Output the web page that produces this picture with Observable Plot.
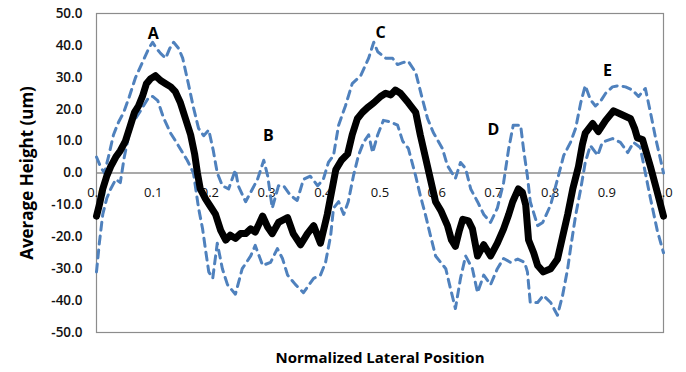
<!DOCTYPE html>
<html><head><meta charset="utf-8">
<script src="https://cdn.jsdelivr.net/npm/d3@7"></script>
<script src="https://cdn.jsdelivr.net/npm/@observablehq/plot@0.6"></script>
<style>body{margin:0;background:#fff}</style>
</head><body><div id="chart"></div>
<script>
const meanPos = [0,0.005,0.011,0.018,0.025,0.034,0.042,0.051,0.060,0.067,0.074,0.081,0.088,0.095,0.104,0.113,0.122,0.131,0.139,0.148,0.157,0.166,0.173,0.178,0.183,0.192,0.201,0.210,0.219,0.228,0.236,0.245,0.254,0.263,0.272,0.280,0.293,0.302,0.310,0.321,0.337,0.347,0.360,0.372,0.383,0.395,0.407,0.422,0.432,0.443,0.451,0.460,0.469,0.478,0.489,0.501,0.510,0.519,0.527,0.536,0.550,0.563,0.571,0.580,0.589,0.598,0.608,0.619,0.626,0.633,0.640,0.646,0.656,0.663,0.672,0.683,0.695,0.707,0.718,0.727,0.734,0.744,0.751,0.757,0.762,0.771,0.778,0.788,0.801,0.813,0.822,0.831,0.840,0.850,0.857,0.862,0.875,0.885,0.898,0.912,0.924,0.942,0.949,0.954,0.963,0.977,0.989,1.0];
const meanHeight = [-13.5,-10,-5,-1,2,5,7,10,15,19,21,24,28,29.5,30.5,29,28,27,25.5,22,17,12,6,0,-5,-8,-10.5,-13,-18,-21,-19.5,-20.5,-19,-19,-17.5,-18.5,-13.5,-17,-19,-15.5,-14,-19,-22.5,-19,-16.5,-22,-13,1,4,6,12,17,19,20.5,22,24,25,24.5,26,25,22,19,12,5,-2,-9,-12,-16.5,-21,-23,-18,-14.5,-15,-17.5,-26,-22.5,-26,-22,-17.5,-13,-9,-5,-6,-10,-21,-25,-29,-31,-30,-27,-20,-13,-5,2,9,12.5,15.5,13,16.5,19.5,18.5,17,14,11,10.5,2,-6,-13.5];

const upperPos = [0,0.007,0.014,0.021,0.030,0.039,0.048,0.058,0.069,0.083,0.092,0.099,0.106,0.113,0.122,0.129,0.136,0.145,0.152,0.162,0.171,0.180,0.189,0.198,0.206,0.213,0.222,0.233,0.245,0.250,0.263,0.275,0.284,0.295,0.302,0.310,0.321,0.330,0.342,0.354,0.365,0.377,0.390,0.400,0.409,0.418,0.427,0.439,0.451,0.466,0.480,0.489,0.496,0.510,0.522,0.531,0.540,0.550,0.563,0.575,0.584,0.594,0.610,0.619,0.633,0.642,0.651,0.660,0.672,0.683,0.695,0.707,0.718,0.727,0.735,0.748,0.753,0.760,0.765,0.778,0.787,0.801,0.813,0.824,0.836,0.845,0.854,0.862,0.871,0.880,0.889,0.898,0.910,0.921,0.933,0.945,0.956,0.968,0.977,0.986,0.995,1.0];
const upperHeight = [5,2,0,5,12,16,19,24,30,35.5,39,41,39,37.5,36,39,41,39,36,28,20.5,14,11.7,13.5,7,0,-4,-5,1,-4,-9,-5,-2,4,-1,-11,-4,-4,-7,-8.6,-2,-1,-4,-2,3.3,5.5,15,21,28,30.5,36,41,38,36,36,34,34.6,35,31.5,23,17,12.7,7.7,2.3,-1.7,3.3,1.4,-5,-9,-13,-15.5,-11,-3,7.7,15,15,7.7,-1,-9,-16.5,-15.5,-10,-2,5.5,9.6,14,22,27.4,23,21,22.5,25,27,27.4,27,26,24,26.5,19,11,4,0];

const lowerPos = [0,0.005,0.011,0.018,0.025,0.034,0.042,0.049,0.056,0.063,0.078,0.092,0.099,0.108,0.118,0.131,0.143,0.153,0.160,0.171,0.180,0.187,0.192,0.198,0.205,0.213,0.222,0.231,0.245,0.257,0.272,0.280,0.293,0.307,0.319,0.328,0.337,0.351,0.365,0.383,0.395,0.404,0.413,0.418,0.427,0.436,0.444,0.453,0.462,0.471,0.480,0.487,0.496,0.506,0.519,0.531,0.540,0.550,0.563,0.571,0.580,0.589,0.598,0.607,0.616,0.624,0.633,0.642,0.651,0.663,0.672,0.683,0.695,0.707,0.718,0.730,0.743,0.755,0.760,0.765,0.778,0.788,0.801,0.813,0.822,0.831,0.836,0.845,0.854,0.862,0.871,0.884,0.892,0.910,0.924,0.937,0.947,0.959,0.968,0.977,0.989,1.0];
const lowerHeight = [-31,-22,-13,-8,-5,-2,-3,5,11,15.5,19.6,23.7,24,22.7,17.4,12.4,9,6,4,0,-11,-17.4,-23.7,-31,-33,-22,-30,-35,-38,-30,-26,-22.7,-29,-28,-23.7,-26.8,-32,-35,-37.5,-33,-32,-28,-19.6,-11,-9,-13,-9,-1,5.5,9.6,12,6.4,12,16.5,16,15,10,7.7,-1,-7,-13,-19.6,-26,-28,-30,-36,-42.5,-33,-26,-30,-37.5,-32,-35,-30,-26.8,-28,-27,-28,-31,-40.6,-40.6,-38.4,-40.6,-44.6,-38.4,-30,-23.7,-13.3,-5,3.3,8.6,5.5,9.6,10.8,9.6,6.4,9.6,8,0,-8,-18,-25];

const xTicks = [0,0.1,0.2,0.3,0.4,0.5,0.6,0.7,0.8,0.9,1.0];
const yTicks = [-50,-40,-30,-20,-10,0,10,20,30,40,50];
const peakLabels = ["A","B","C","D","E"];
const peakPos = [0.100,0.303,0.501,0.700,0.901];
const peakHeight = [43.7,11.6,43.9,13.6,32.1];
const xTitle = "Normalized Lateral Position";
const yTitle = "Average Height (um)";

const zip = (xs, ys) => xs.map((x, i) => ({x, y: ys[i]}));
const mean = zip(meanPos, meanHeight);
const upper = zip(upperPos, upperHeight);
const lower = zip(lowerPos, lowerHeight);
const peaks = peakLabels.map((t, i) => ({t, x: peakPos[i], y: peakHeight[i]}));

const font = "'Open Sans', 'Liberation Sans', sans-serif";
const blue = "#4F81BD";

const chart = Plot.plot({
  width: 686, height: 372,
  marginLeft: 96, marginRight: 23, marginTop: 13, marginBottom: 40,
  x: {domain: [0, 1], axis: null},
  y: {domain: [-50, 50], axis: null},
  style: {fontFamily: font, background: "#fff"},
  marks: [
    Plot.ruleY([0], {stroke: "#8c8c8c", strokeWidth: 1.5}),
    Plot.frame({stroke: "#8c8c8c", strokeWidth: 1.2}),
    Plot.text(xTicks, {x: d => d, y: 0, dy: 20, text: d => d.toFixed(1), fontSize: 13, fill: "#111"}),
    Plot.text(yTicks, {x: 0, y: d => d, dx: -14, textAnchor: "end", text: d => d.toFixed(1), fontSize: 13.5, fontWeight: 600, fill: "#111"}),
    Plot.line(upper, {x: "x", y: "y", stroke: blue, strokeWidth: 3, strokeDasharray: "8,6"}),
    Plot.line(lower, {x: "x", y: "y", stroke: blue, strokeWidth: 3, strokeDasharray: "8,6"}),
    Plot.line(mean, {x: "x", y: "y", stroke: "#000", strokeWidth: 7, strokeLinejoin: "round", strokeLinecap: "round"}),
    Plot.text(peaks, {x: "x", y: "y", text: "t", fontSize: 16, fontWeight: "bold", fill: "#000"}),
    Plot.text([xTitle], {x: 0.5, y: -50, dy: 26, text: d => d, fontSize: 15, fontWeight: "bold", fill: "#000"}),
    Plot.text([yTitle], {x: 0, y: 0, dx: -69, rotate: -90, text: d => d, fontSize: 17, fontWeight: "bold", fill: "#000"})
  ]
});
document.getElementById("chart").appendChild(chart);
</script>
</body></html>
